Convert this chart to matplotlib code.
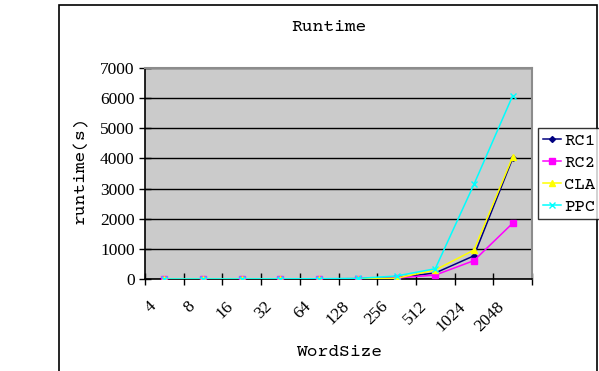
import matplotlib
matplotlib.use("Agg")
import matplotlib.pyplot as plt
from matplotlib.patches import Rectangle
import numpy as np

categories = ["4", "8", "16", "32", "64", "128", "256", "512", "1024", "2048"]
rc1 = [0.5, 1, 2, 3, 5, 10, 45, 200, 770, 4000]
rc2 = [0.5, 1, 2, 3, 5, 8, 35, 130, 610, 1850]
cla = [0.5, 1, 2, 3, 5, 10, 25, 300, 960, 4050]
ppc = [1, 2, 3, 5, 8, 20, 100, 340, 3140, 6080]

W, H = 599, 371
fig = plt.figure(figsize=(W / 100, H / 100), dpi=100)
fig.patch.set_facecolor("white")

# outer chart border
fig.add_artist(Rectangle((59 / W, -0.05), (597 - 59) / W, (H - 5) / H + 0.05,
                         transform=fig.transFigure, fill=False,
                         edgecolor="black", linewidth=1.2))

ax = fig.add_axes([145 / W, 1 - 279 / H, 387 / W, 211 / H])
ax.set_facecolor("#CBCBCB")

x = np.arange(len(categories))
series = [
    ("RC1", rc1, "#000080", "D", 3),
    ("RC2", rc2, "#FF00FF", "s", 4),
    ("CLA", cla, "#FFFF00", "^", 4),
    ("PPC", ppc, "#00FFFF", "x", 4),
]
handles = []
for name, vals, col, mk, ms in series:
    h, = ax.plot(x, vals, color=col, marker=mk, markersize=ms, linewidth=1.1,
                 markeredgewidth=1, label=name, zorder=3)
    handles.append(h)

ax.set_xlim(-0.5, len(categories) - 0.5)
ax.set_ylim(0, 7000)
ax.set_yticks(np.arange(0, 7001, 1000))
ax.yaxis.grid(True, color="black", linewidth=1)
ax.set_axisbelow(True)

serif = ["Liberation Serif", "DejaVu Serif"]
mono = ["Courier Prime", "Cutive Mono", "Liberation Mono"]

ax.set_xticks(np.arange(-0.5, len(categories), 1))
ax.set_xticklabels([])
ax.set_xticks(x - 0.42, minor=True)
ax.set_xticklabels(categories, minor=True, rotation=45, ha="right",
                   va="top", rotation_mode="anchor",
                   fontfamily=serif, fontsize=12.5)
ax.tick_params(axis="x", which="minor", length=0, pad=14)
ax.tick_params(axis="both", which="major", direction="inout", length=8,
               width=1, color="black")
ax.set_yticklabels([f"{v:d}" for v in range(0, 7001, 1000)],
                   fontfamily=serif, fontsize=12.5)

for s in ["top", "right"]:
    ax.spines[s].set_color("#8C8C8C")
    ax.spines[s].set_linewidth(1.5)
for s in ["left", "bottom"]:
    ax.spines[s].set_color("black")
    ax.spines[s].set_linewidth(1.2)

fig.text(329 / W, 1 - 27 / H, "Runtime", ha="center", va="center",
         fontfamily=mono, fontsize=13)
fig.text(80 / W, 1 - 170 / H, "runtime(s)", ha="center", va="center",
         rotation=90, fontfamily=mono, fontsize=13)
fig.text(339 / W, 1 - 352 / H, "WordSize", ha="center", va="center",
         fontfamily=mono, fontsize=13)

leg = fig.legend(handles=handles, loc="upper left",
                 bbox_to_anchor=(538 / W, 1 - 128 / H),
                 prop={"family": mono, "size": 12.5},
                 frameon=True, fancybox=False, edgecolor="black",
                 handlelength=1.0, handletextpad=0.2, borderpad=0.3,
                 labelspacing=0.38, borderaxespad=0, markerscale=1.0)
leg.get_frame().set_linewidth(1)

fig.savefig("out.png", dpi=100)
